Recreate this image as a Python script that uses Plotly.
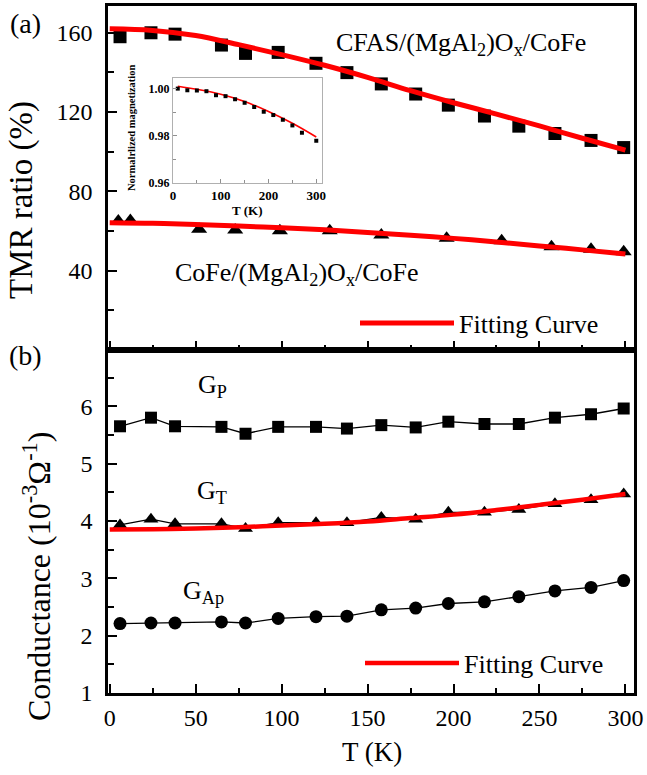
import plotly.graph_objects as go

# ---------------- data ----------------
T_cfas = [6, 24, 38, 65, 79, 98, 120, 138, 158, 178, 197, 218, 238, 259, 280, 299]
tmr_cfas = [158.0, 160.0, 159.3, 153.8, 149.6, 150.1, 144.6, 139.9, 134.2, 129.1,
            123.5, 118.0, 112.9, 109.2, 105.7, 102.1]

T_cofe = [5, 12, 52, 73, 99, 128, 158, 196, 228, 257, 280, 299]
tmr_cofe = [65.0, 65.3, 60.9, 60.5, 60.2, 60.2, 58.0, 56.3, 55.1, 52.1, 50.8, 49.6]

T_fit = [0, 25, 50, 75, 100, 125, 150, 175, 200, 225, 250, 275, 300]
fit_cfas = [162.0, 161.2, 158.6, 154.0, 149.0, 143.6, 137.5, 130.8, 124.7, 119.0, 113.0, 106.8, 100.8]
fit_cofe = [64.2, 63.9, 63.3, 62.5, 61.6, 60.6, 59.3, 57.9, 56.3, 54.5, 52.5, 50.5, 48.4]

T_g = [6, 24, 38, 65, 79, 98, 120, 138, 158, 178, 197, 218, 238, 259, 280, 299]
g_p = [5.65, 5.80, 5.65, 5.64, 5.52, 5.64, 5.64, 5.61, 5.67, 5.63, 5.73, 5.69, 5.69, 5.80, 5.86, 5.96]
g_t = [3.93, 4.03, 3.95, 3.95, 3.87, 3.97, 3.97, 3.97, 4.06, 4.03, 4.15, 4.15, 4.20, 4.30, 4.37, 4.47]
g_ap = [2.21, 2.22, 2.22, 2.24, 2.22, 2.30, 2.33, 2.34, 2.45, 2.48, 2.56, 2.59, 2.68, 2.78, 2.84, 2.96]
fit_gt = [3.85, 3.855, 3.87, 3.89, 3.92, 3.95, 3.99, 4.05, 4.11, 4.19, 4.28, 4.37, 4.47]

T_in = [10, 30, 50, 70, 90, 110, 130, 150, 170, 190, 210, 230, 250, 270, 300]
m_in = [1.0000, 0.9993, 0.9992, 0.9989, 0.9972, 0.9968, 0.9955, 0.9940, 0.9922,
        0.9902, 0.9888, 0.9868, 0.9844, 0.9813, 0.9779]
T_in_fit = [10, 50, 100, 150, 200, 250, 300]
m_in_fit = [1.0010, 0.9997, 0.9976, 0.9945, 0.9903, 0.9853, 0.9795]

x_ticks = [0, 50, 100, 150, 200, 250, 300]
tmr_ticks = [40, 80, 120, 160]
g_ticks = [1, 2, 3, 4, 5, 6]

# ---------------- figure ----------------
W, H = 647, 775
ML, MR, MT, MB = 108, 13, 6, 82
PW, PH = W - ML - MR, H - MT - MB
FONT = "Liberation Serif"
RED = "#ff0000"


def px(x):
    return (x - ML) / PW


def py(y):
    return (H - MB - y) / PH


split = py(350)

fig = go.Figure()

# top panel
fig.add_trace(go.Scatter(x=T_cfas, y=tmr_cfas, mode="markers", xaxis="x2", yaxis="y2",
                         marker=dict(symbol="square", size=13, color="black"), showlegend=False))
fig.add_trace(go.Scatter(x=T_cofe, y=tmr_cofe, mode="markers", xaxis="x2", yaxis="y2",
                         marker=dict(symbol="triangle-up", size=14, color="black"), showlegend=False))
fig.add_trace(go.Scatter(x=T_fit, y=fit_cfas, mode="lines", xaxis="x2", yaxis="y2",
                         line=dict(color=RED, width=5, shape="spline"),
                         name="Fitting Curve", legend="legend", showlegend=True))
fig.add_trace(go.Scatter(x=T_fit, y=fit_cofe, mode="lines", xaxis="x2", yaxis="y2",
                         line=dict(color=RED, width=5, shape="spline"), showlegend=False))

# bottom panel
fig.add_trace(go.Scatter(x=T_g, y=g_p, mode="lines+markers", xaxis="x", yaxis="y",
                         line=dict(color="black", width=1.3),
                         marker=dict(symbol="square", size=12, color="black"), showlegend=False))
fig.add_trace(go.Scatter(x=T_g, y=g_t, mode="lines+markers", xaxis="x", yaxis="y",
                         line=dict(color="black", width=1.3),
                         marker=dict(symbol="triangle-up", size=13, color="black"), showlegend=False))
fig.add_trace(go.Scatter(x=T_g, y=g_ap, mode="lines+markers", xaxis="x", yaxis="y",
                         line=dict(color="black", width=1.3),
                         marker=dict(symbol="circle", size=13, color="black"), showlegend=False))
fig.add_trace(go.Scatter(x=T_fit, y=fit_gt, mode="lines", xaxis="x", yaxis="y",
                         line=dict(color=RED, width=4.5, shape="spline"),
                         name="Fitting Curve", legend="legend2", showlegend=True))

# inset
fig.add_trace(go.Scatter(x=T_in_fit, y=m_in_fit, mode="lines", xaxis="x3", yaxis="y3",
                         line=dict(color=RED, width=1.6, shape="spline"), showlegend=False))
fig.add_trace(go.Scatter(x=T_in, y=m_in, mode="markers", xaxis="x3", yaxis="y3",
                         marker=dict(symbol="square", size=4, color="black"), showlegend=False))

axis_common = dict(showline=True, linecolor="black", linewidth=2.5, mirror=True,
                   ticks="inside", tickcolor="black", tickwidth=2, showgrid=False,
                   zeroline=False, automargin=False,
                   tickfont=dict(family=FONT, size=24, color="black"))

fig.update_layout(
    width=W, height=H,
    margin=dict(l=ML, r=MR, t=MT, b=MB, autoexpand=False),
    paper_bgcolor="white", plot_bgcolor="white",
    font=dict(family=FONT, color="black"),
    xaxis=dict(axis_common, domain=[0, 1], range=[-1, 305], anchor="y",
               tickvals=x_ticks, ticklen=9, ticklabelstandoff=1,
               minor=dict(dtick=25, tick0=0, ticks="inside", ticklen=5, tickwidth=2,
                          tickcolor="black")),
    yaxis=dict(axis_common, domain=[0, split], range=[1, 6.98], anchor="x",
               tickvals=g_ticks, ticklen=9, ticklabelstandoff=8,
               minor=dict(dtick=0.5, tick0=0, ticks="inside", ticklen=6, tickwidth=2,
                          tickcolor="black")),
    xaxis2=dict(axis_common, domain=[0, 1], range=[-1, 305], anchor="y2",
                tickvals=x_ticks, ticklen=9, showticklabels=False,
                minor=dict(dtick=25, tick0=0, ticks="inside", ticklen=5, tickwidth=2,
                           tickcolor="black")),
    yaxis2=dict(axis_common, domain=[split, 1], range=[0, 173.5], anchor="x2",
                tickvals=tmr_ticks, ticklen=9, ticklabelstandoff=8,
                minor=dict(dtick=20, tick0=0, ticks="inside", ticklen=6, tickwidth=2,
                           tickcolor="black")),
    xaxis3=dict(domain=[px(173), px(322)], range=[0, 312], anchor="y3",
                showline=True, linecolor="#b0b0b0", linewidth=1.2, mirror=True,
                ticks="inside", tickcolor="#909090", ticklen=4, tickwidth=1,
                tickvals=[0, 100, 200, 300], showgrid=False, zeroline=False,
                automargin=False,
                minor=dict(dtick=50, ticks="inside", ticklen=3, tickcolor="#909090"),
                tickfont=dict(family=FONT, size=13, color="black", weight="bold")),
    yaxis3=dict(domain=[py(183), py(78)], range=[0.96, 1.0045], anchor="x3",
                showline=True, linecolor="#b0b0b0", linewidth=1.2, mirror=True,
                ticks="inside", tickcolor="#909090", ticklen=4, tickwidth=1,
                tickvals=[0.96, 0.98, 1.00], tickformat=".2f", showgrid=False,
                zeroline=False, automargin=False,
                minor=dict(dtick=0.01, tick0=0.96, ticks="inside", ticklen=3,
                           tickcolor="#909090"),
                tickfont=dict(family=FONT, size=12, color="black", weight="bold")),
    legend=dict(x=px(355), y=py(323), xanchor="left", yanchor="middle",
                bgcolor="rgba(0,0,0,0)", borderwidth=0, itemwidth=94,
                font=dict(family=FONT, size=26, color="black")),
    legend2=dict(x=px(360), y=py(663), xanchor="left", yanchor="middle",
                 bgcolor="rgba(0,0,0,0)", borderwidth=0, itemwidth=94,
                 font=dict(family=FONT, size=26, color="black")),
)

ann = []


def add_text(x, y, text, size, angle=0, weight="normal"):
    ann.append(dict(x=px(x), y=py(y), xref="paper", yref="paper", text=text,
                    showarrow=False, textangle=angle, xanchor="center", yanchor="middle",
                    font=dict(family=FONT, size=size, color="black", weight=weight)))


add_text(25, 24, "(a)", 28)
add_text(25, 355, "(b)", 28)
add_text(22, 200, "TMR ratio (%)", 33, angle=-90)
add_text(37, 577, "Conductance (10<sup>-3</sup>Ω<sup>-1</sup>)", 32, angle=-90)
add_text(372, 752, "T (K)", 27)
add_text(461, 44, "CFAS/(MgAl<sub>2</sub>)O<sub>x</sub>/CoFe", 26)
add_text(297, 274, "CoFe/(MgAl<sub>2</sub>)O<sub>x</sub>/CoFe", 26)
add_text(212, 386, "G<sub>P</sub>", 26)
add_text(212, 492, "G<sub>T</sub>", 26)
add_text(203, 592, "G<sub>Ap</sub>", 26)
add_text(131, 128, "Normalrlized magnetization", 10.5, angle=-90, weight="bold")
add_text(247, 211, "T (K)", 13, weight="bold")

fig.update_layout(annotations=ann)

fig.write_html("out.html", config={"displayModeBar": False},
               post_script="document.body.style.margin='0px';")
